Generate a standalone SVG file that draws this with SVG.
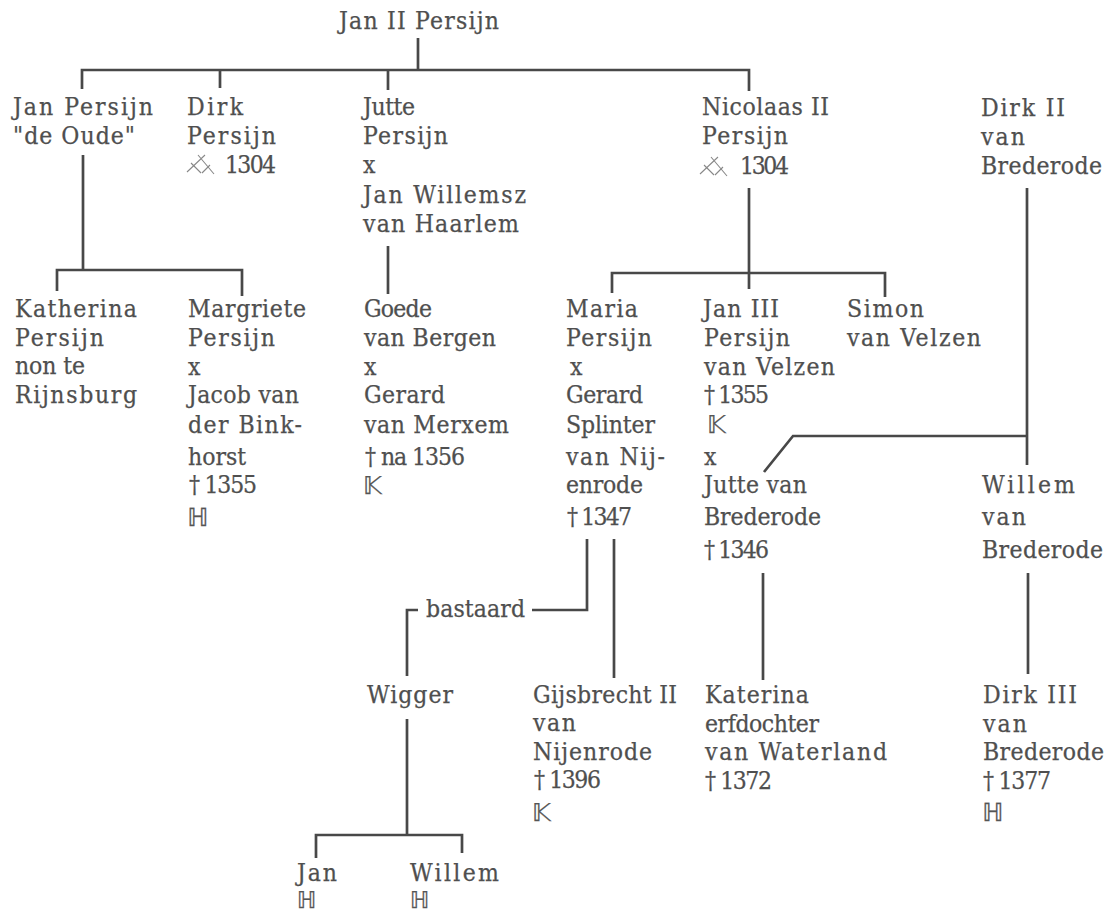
<svg xmlns="http://www.w3.org/2000/svg" width="1106" height="914" viewBox="0 0 1106 914">
<style>
text{font-family:"DejaVu Serif Condensed","DejaVu Serif","Liberation Serif",serif;font-size:24.5px;fill:#4f4f4f;stroke:#4f4f4f;stroke-width:.25}
text.m{font-family:"DejaVu Sans","Noto Sans",sans-serif;font-size:25px;fill:#555;stroke:#555}
text.s{font-size:23px}
#connectors path{fill:none;stroke:#484848;stroke-width:2.7}
.sw{fill:none;stroke:#888;stroke-width:1.1}
</style>
<defs><g id="swords"><path class="sw" d="M0,-1L18,-18M11,-18L27,1M4,-10L14,0M15,0L23,-8"/></g></defs>
<rect width="1106" height="914" fill="#fff"/>
<g id="connectors">
<path d="M418,38V70M82,89V70H749V91M220,70V88M388,70V90"/>
<path d="M83,155V270M57,291V270H242V296"/>
<path d="M388,246V294"/>
<path d="M749,188V289M612,293V273H885V297"/>
<path d="M1027,188V465M1027,436H793L764,472"/>
<path d="M587,539V610H532M614,539V678"/>
<path d="M418,610H407V676"/>
<path d="M407,719V835M316,858V835H462V853"/>
<path d="M763,573V680"/>
<path d="M1028,573V674"/>
</g>
<g id="n-jan2"><text x="339" y="29" textLength="160">Jan II Persijn</text></g>
<g id="n-jan-oude"><text x="13" y="115" textLength="140">Jan Persijn</text><text x="13" y="144" textLength="122">"de Oude"</text></g>
<g id="n-dirk"><text x="187" y="115" textLength="56">Dirk</text><text x="187" y="144" textLength="89">Persijn</text><use href="#swords" x="187" y="173"/><text x="225" y="173" textLength="51">1304</text></g>
<g id="n-jutte"><text x="363" y="115" textLength="52">Jutte</text><text x="363" y="144" textLength="85">Persijn</text><text x="363" y="173" textLength="12">x</text><text x="363" y="203" textLength="163">Jan Willemsz</text><text x="363" y="232" textLength="156">van Haarlem</text></g>
<g id="n-nicolaas"><text x="702" y="115" textLength="127">Nicolaas II</text><text x="702" y="144" textLength="86">Persijn</text><use href="#swords" x="700" y="175"/><text x="740" y="174" textLength="49">1304</text></g>
<g id="n-dirk2"><text x="981" y="116" textLength="84">Dirk II</text><text x="981" y="145" textLength="44">van</text><text x="981" y="174" textLength="121">Brederode</text></g>
<g id="n-katherina"><text x="15" y="317" textLength="122">Katherina</text><text x="15" y="346" textLength="89">Persijn</text><text x="15" y="374" textLength="70">non te</text><text x="15" y="403" textLength="122">Rijnsburg</text></g>
<g id="n-margriete"><text x="188" y="317" textLength="118">Margriete</text><text x="188" y="346" textLength="87">Persijn</text><text x="188" y="375" textLength="12">x</text><text x="188" y="403" textLength="111">Jacob van</text><text x="188" y="433" textLength="114">der Bink-</text><text x="188" y="465" textLength="58">horst</text><text x="189" y="493" textLength="68">† 1355</text><text class="m" x="187" y="526">ℍ</text></g>
<g id="n-goede"><text x="364" y="317" textLength="68">Goede</text><text x="364" y="346" textLength="132">van Bergen</text><text x="364" y="375" textLength="12">x</text><text x="364" y="403" textLength="81">Gerard</text><text x="364" y="433" textLength="145">van Merxem</text><text x="365" y="465" textLength="100">† na 1356</text><text class="m" x="363" y="494">𝕂</text></g>
<g id="n-maria"><text x="566" y="317" textLength="72">Maria</text><text x="566" y="346" textLength="86">Persijn</text><text x="570" y="375" textLength="12">x</text><text x="566" y="403" textLength="77">Gerard</text><text x="566" y="433" textLength="89">Splinter</text><text x="566" y="465" textLength="99">van Nij-</text><text x="566" y="493" textLength="77">enrode</text><text x="567" y="525" textLength="65">† 1347</text></g>
<g id="n-jan3"><text x="703" y="317" textLength="76">Jan III</text><text x="704" y="346" textLength="86">Persijn</text><text x="704" y="375" textLength="131">van Velzen</text><text x="704" y="403" textLength="65">† 1355</text><text class="m" x="707" y="433">𝕂</text><text x="704" y="465" textLength="12">x</text><text x="704" y="493" textLength="103">Jutte van</text><text x="704" y="525" textLength="117">Brederode</text><text x="704" y="558" textLength="65">† 1346</text></g>
<g id="n-simon"><text x="847" y="317" textLength="77">Simon</text><text x="847" y="346" textLength="134">van Velzen</text></g>
<g id="n-willem-b"><text x="982" y="493" textLength="93">Willem</text><text x="982" y="525" textLength="44">van</text><text x="982" y="558" textLength="121">Brederode</text></g>
<g id="l-bastaard"><text x="426" y="617" textLength="99">bastaard</text></g>
<g id="n-wigger"><text x="367" y="703" textLength="86">Wigger</text></g>
<g id="n-gijsbrecht"><text x="533" y="703" textLength="144">Gijsbrecht II</text><text x="533" y="731" textLength="43">van</text><text x="533" y="760" textLength="119">Nijenrode</text><text x="534" y="788" textLength="67">† 1396</text><text class="m" x="532" y="821">𝕂</text></g>
<g id="n-katerina"><text x="705" y="703" textLength="104">Katerina</text><text x="705" y="732" textLength="114">erfdochter</text><text x="705" y="760" textLength="182">van Waterland</text><text x="705" y="789" textLength="67">† 1372</text></g>
<g id="n-dirk3"><text x="983" y="703" textLength="94">Dirk III</text><text x="983" y="732" textLength="44">van</text><text x="983" y="760" textLength="121">Brederode</text><text x="983" y="789" textLength="68">† 1377</text><text class="m" x="982" y="821">ℍ</text></g>
<g id="n-jan"><text x="297" y="881" textLength="40">Jan</text><text class="m s" x="297" y="908">ℍ</text></g>
<g id="n-willem"><text x="410" y="881" textLength="89">Willem</text><text class="m s" x="410" y="908">ℍ</text></g>
</svg>
